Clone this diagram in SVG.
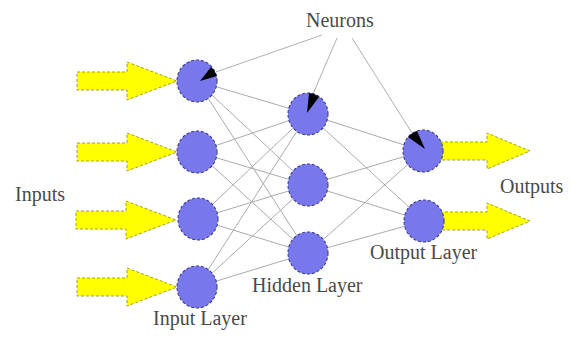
<svg xmlns="http://www.w3.org/2000/svg" width="571" height="344" viewBox="0 0 571 344">
<style>
.bg{fill:#ffffff}
.conn{stroke:#ababab;stroke-width:1;fill:none}
.ptr{stroke:#b0b0b0;stroke-width:1;fill:none}
.neuron{fill:#7878ec;stroke:#3c3c8c;stroke-width:1.1;stroke-dasharray:3 2}
.wedge{fill:#000000}
.arrow{fill:#ffff00;stroke:#a0a020;stroke-width:1;stroke-dasharray:3 2}
.lbl{font-family:"Liberation Serif","Times New Roman",serif;font-size:20px;fill:#4a4a4a}
</style>
<defs>
<path id="inArrow" class="arrow" d="M0,-9 H50 V-19 L100,0 L50,19 V9 H0 Z"/>
<path id="outArrow" class="arrow" d="M0,-9 H52 V-18 L95,0 L52,18 V9 H0 Z"/>
</defs>
<rect class="bg" x="0" y="0" width="571" height="344"/>
<g id="connectors">
<line class="conn" x1="197" y1="81" x2="308" y2="114"/>
<line class="conn" x1="197" y1="81" x2="308" y2="185"/>
<line class="conn" x1="197" y1="81" x2="308" y2="253"/>
<line class="conn" x1="197" y1="152" x2="308" y2="114"/>
<line class="conn" x1="197" y1="152" x2="308" y2="185"/>
<line class="conn" x1="197" y1="152" x2="308" y2="253"/>
<line class="conn" x1="197" y1="219" x2="308" y2="114"/>
<line class="conn" x1="197" y1="219" x2="308" y2="185"/>
<line class="conn" x1="197" y1="219" x2="308" y2="253"/>
<line class="conn" x1="197" y1="287" x2="308" y2="114"/>
<line class="conn" x1="197" y1="287" x2="308" y2="185"/>
<line class="conn" x1="197" y1="287" x2="308" y2="253"/>
<line class="conn" x1="308" y1="114" x2="423" y2="151"/>
<line class="conn" x1="308" y1="114" x2="424" y2="221"/>
<line class="conn" x1="308" y1="185" x2="423" y2="151"/>
<line class="conn" x1="308" y1="185" x2="424" y2="221"/>
<line class="conn" x1="308" y1="253" x2="423" y2="151"/>
<line class="conn" x1="308" y1="253" x2="424" y2="221"/>
<line class="ptr" x1="322" y1="35" x2="216" y2="72"/>
<line class="ptr" x1="337" y1="38" x2="313" y2="94"/>
<line class="ptr" x1="352" y1="38" x2="412" y2="133"/>
</g>
<g id="input-arrows">
<use href="#inArrow" transform="translate(77,81)"/>
<use href="#inArrow" transform="translate(77,152)"/>
<use href="#inArrow" transform="translate(76,220)"/>
<use href="#inArrow" transform="translate(77,287)"/>
</g>
<g id="output-arrows">
<use href="#outArrow" transform="translate(435,151)"/>
<use href="#outArrow" transform="translate(435,221)"/>
</g>
<g id="input1"><ellipse class="neuron" cx="197" cy="81" rx="20" ry="21"/><path class="wedge" d="M200,81 L217,76 A20,21 0 0 0 211,67 Z"/></g>
<g id="input2"><ellipse class="neuron" cx="197" cy="152" rx="20" ry="21"/></g>
<g id="input3"><ellipse class="neuron" cx="198" cy="219" rx="20" ry="21"/></g>
<g id="input4"><ellipse class="neuron" cx="197" cy="287" rx="20" ry="21"/></g>
<g id="hidden1"><ellipse class="neuron" cx="308" cy="114" rx="20" ry="21"/><path class="wedge" d="M307,113 L309,93 A20,21 0 0 1 319,97 Z"/></g>
<g id="hidden2"><ellipse class="neuron" cx="308" cy="185" rx="20" ry="21"/></g>
<g id="hidden3"><ellipse class="neuron" cx="308" cy="253" rx="20" ry="21"/></g>
<g id="output1"><ellipse class="neuron" cx="423" cy="151" rx="20" ry="21"/><path class="wedge" d="M425,149 L408,137 A20,21 0 0 1 417,131 Z"/></g>
<g id="output2"><ellipse class="neuron" cx="424" cy="221" rx="20" ry="21"/></g>
<g id="labels">
<text class="lbl" x="306" y="27">Neurons</text>
<text class="lbl" x="15" y="201">Inputs</text>
<text class="lbl" x="500" y="193">Outputs</text>
<text class="lbl" x="153" y="325">Input Layer</text>
<text class="lbl" x="252" y="292">Hidden Layer</text>
<text class="lbl" x="370" y="259">Output Layer</text>
</g>
</svg>
